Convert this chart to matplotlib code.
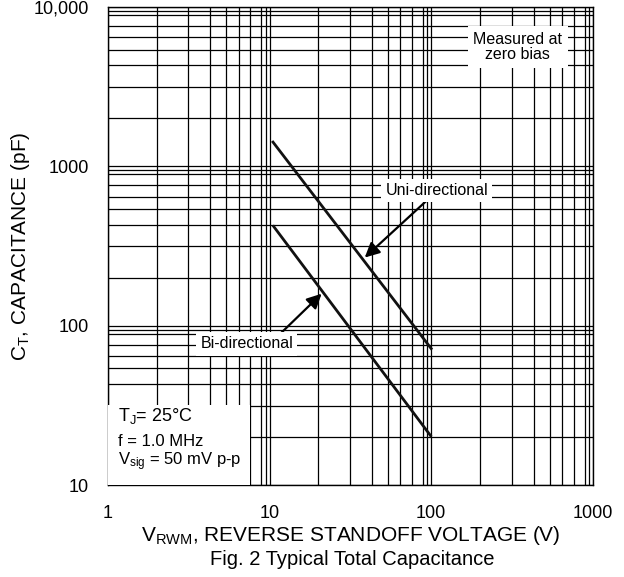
import matplotlib.pyplot as plt
from matplotlib.patches import Rectangle

# fonts: Arial-like, with mathtext in the same face for the subscripts
plt.rcParams['font.family'] = ['Liberation Sans', 'DejaVu Sans']
plt.rcParams['mathtext.fontset'] = 'custom'
plt.rcParams['mathtext.rm'] = 'Liberation Sans'
plt.rcParams['mathtext.it'] = 'Liberation Sans:italic'
plt.rcParams['mathtext.default'] = 'regular'

# data
uni_v = [10.5, 100]
uni_c = [1420, 72]
bi_v = [10.6, 99]
bi_c = [420, 20.5]

x_ticks = [1, 10, 100, 1000]
x_labels = ["1", "10", "100", "1000"]
y_ticks = [10, 100, 1000, 10000]
y_labels = ["10", "100", "1000", "10,000"]

# the printed grid is only roughly logarithmic
grid_steps = [2, 3.15, 4.3, 5.4, 6.45, 7.6, 8.9, 9.45]

fig = plt.figure(figsize=(6.24, 5.77), dpi=100)
ax = fig.add_axes([0.173, 0.159, 0.777, 0.829])
ax.set_xscale('log')
ax.set_yscale('log')
ax.set_xlim(1, 1000)
ax.set_ylim(10, 10000)

ax.set_xticks(x_ticks)
ax.set_xticklabels(x_labels)
ax.set_yticks(y_ticks)
ax.set_yticklabels(y_labels)
ax.set_xticks([d * s for d in [1, 10, 100] for s in grid_steps], minor=True)
ax.set_yticks([d * s for d in [10, 100, 1000] for s in grid_steps], minor=True)
ax.set_xticklabels([], minor=True)
ax.set_yticklabels([], minor=True)
ax.tick_params(which='both', length=0, labelsize=13)
ax.tick_params(axis='x', pad=14)
ax.tick_params(axis='y', pad=14)
ax.grid(which='both', color='black', linewidth=0.9)
for sp in ax.spines.values():
    sp.set_linewidth(1.0)

ax.plot(uni_v, uni_c, color='#111111', linewidth=2, zorder=3)
ax.plot(bi_v, bi_c, color='#111111', linewidth=2, zorder=3)

arrow = dict(arrowstyle='-|>', color='black', lw=1.6, mutation_scale=22,
             shrinkA=0, shrinkB=0)
ax.annotate("", xy=(38.8, 268), xytext=(94, 611), arrowprops=arrow, zorder=4)
ax.annotate("", xy=(21, 159), xytext=(10.5, 80.5), arrowprops=arrow, zorder=4)

box = dict(facecolor='white', edgecolor='none', pad=3)
ax.text(108, 706, "Uni-directional", fontsize=11.5, ha='center', va='center',
        bbox=box, zorder=5)
ax.text(7.24, 77, "Bi-directional", fontsize=11.5, ha='center', va='center',
        bbox=box, zorder=5)
ax.text(343, 5600, "Measured at\nzero bias", fontsize=11.5, ha='center',
        va='center', linespacing=1.05, bbox=dict(facecolor='white',
        edgecolor='none', pad=4), zorder=5)

# conditions box in the lower left corner
ax.add_patch(Rectangle((0, 0), 0.293, 0.167, transform=ax.transAxes,
                       facecolor='white', edgecolor='none', zorder=4))
ax.text(0.021, 0.144, r"T$_J$= 25°C", transform=ax.transAxes, fontsize=13,
        va='center', zorder=5)
ax.text(0.021, 0.092, "f = 1.0 MHz", transform=ax.transAxes, fontsize=12,
        va='center', zorder=5)
ax.text(0.021, 0.050, r"V$_{sig}$ = 50 mV p-p", transform=ax.transAxes,
        fontsize=12, va='center', zorder=5)

ax.set_ylabel(r"C$_T$, CAPACITANCE (pF)", fontsize=15, labelpad=1)
ax.set_xlabel(r"V$_{RWM}$, REVERSE STANDOFF VOLTAGE (V)", fontsize=15,
              labelpad=2)
fig.text(0.564, 0.031, "Fig. 2 Typical Total Capacitance", fontsize=14.5,
         ha='center', va='center')

fig.savefig("out.png", dpi=100)
